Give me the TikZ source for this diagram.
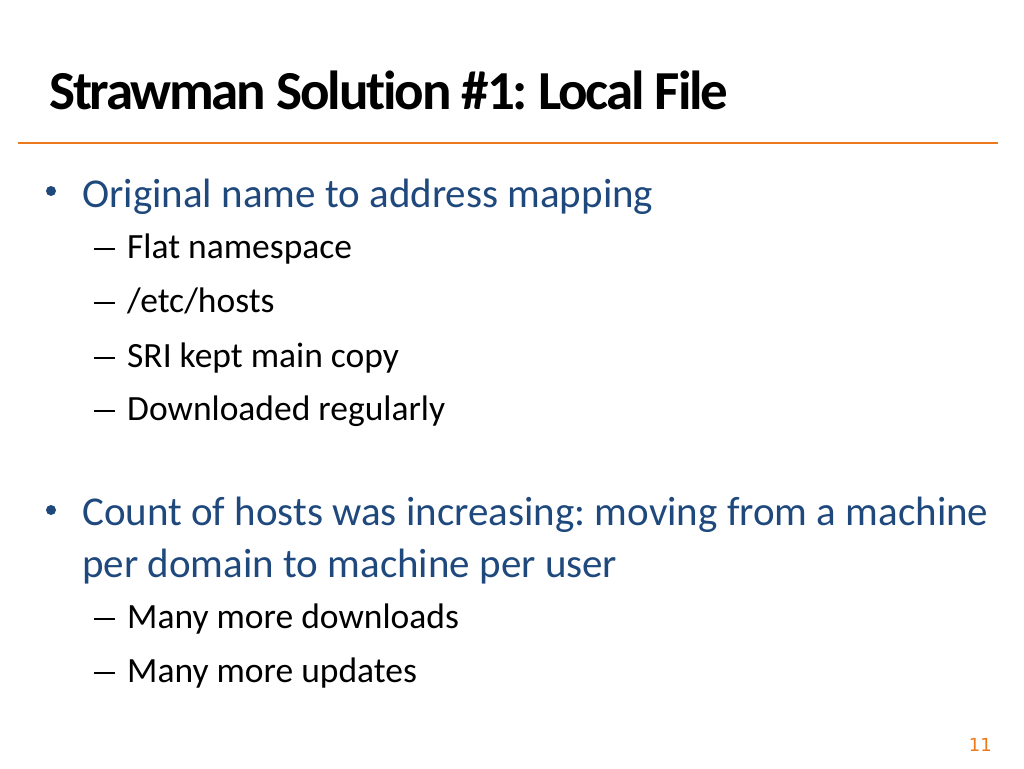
\documentclass[tikz,border=0pt]{standalone}
\usepackage{fontspec}
\setmainfont{Carlito}
\newfontfamily\numfont{DejaVu Sans}
\usepackage{tikz}
\usetikzlibrary{positioning}
\definecolor{slideblue}{HTML}{1F497D}
\definecolor{slideorange}{HTML}{EC7A1C}
\frenchspacing

\begin{document}
\begin{tikzpicture}[x=1pt,y=-1pt,
  lvlone/.style={anchor=base west,inner sep=0pt,text=slideblue,font=\fontsize{41}{48}\selectfont},
  lvltwo/.style={anchor=base west,inner sep=0pt,font=\fontsize{35.5}{40}\selectfont},
  dashmark/.style={line width=2pt},
  dotmark/.style={fill=slideblue}]
  \useasboundingbox (0,0) rectangle (1024,768);

  % Title
  \node[anchor=base west,inner sep=0pt,font=\fontsize{55}{60}\bfseries\addfontfeature{LetterSpace=-4,Ligatures=NoCommon}] (title) at (49,109) {Strawman Solution \#1: Local File};
  \coordinate (ruleL) at (18,143);
  \coordinate (ruleR) at (998,143);
  \draw[slideorange,line width=2.5pt] (ruleL) -- (ruleR);

  % Nodes
  \node[lvlone] (orig) at (82,207) {Original name to address mapping};
  \fill[dotmark] (51,191) circle (5pt);
  \node[lvltwo] (flat) at (127,258) {Flat namespace};
  \node[lvltwo] (hosts) at (127,312) {/etc/hosts};
  \node[lvltwo] (sri) at (127,367) {SRI kept main copy};
  \node[lvltwo] (down) at (127,420) {Downloaded regularly};
  \foreach \y in {258,312,367,420}
    \draw[dashmark] (94,\y-9) -- (115,\y-9);

  \node[lvlone] (count) at (82,525) {Count of hosts was increasing: moving from a machine};
  \node[lvlone] (perdom) at (82,577) {per domain to machine per user};
  \fill[dotmark] (51,510) circle (5pt);
  \node[lvltwo] (moredown) at (127,628) {Many more downloads};
  \node[lvltwo] (moreup) at (127,682) {Many more updates};
  \foreach \y in {628,682}
    \draw[dashmark] (94,\y-9) -- (115,\y-9);

  % Page number
  \node[anchor=base east,inner sep=0pt,text=slideorange,font=\numfont\fontsize{18}{20}\selectfont] (pagenum) at (992,751) {11};
\end{tikzpicture}
\end{document}
